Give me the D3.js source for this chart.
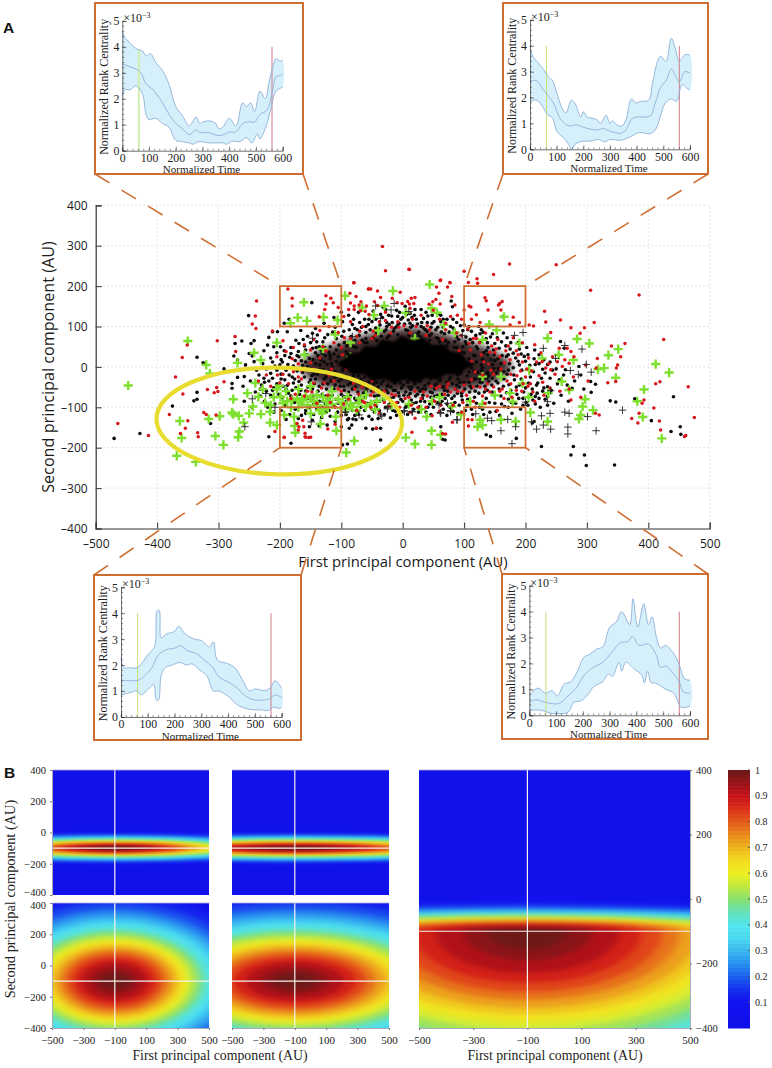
<!DOCTYPE html>
<html><head><meta charset="utf-8">
<script src="https://cdn.jsdelivr.net/npm/d3@7"></script>
<style>html,body{margin:0;padding:0;background:#fff}svg{display:block}</style></head>
<body><svg id="c" width="772" height="1068" xmlns="http://www.w3.org/2000/svg"></svg>
<script>
// ---------- scatter (AU) ----------
const blackDots=[[-470,-177],[-428,-165],[-375,-97],[-335,24],[-325,10],[-340,-84],[-335,-80],[-335,-63],[-291,-5],[-278,-41],[-278,-53],[-269,-26],[-258,-24],[-251,127],[-273,58],[-262,64],[-247,58],[-242,65],[-250,33],[-275,27],[-256,5],[-269,17],[-242,13],[-245,27],[-226,40],[-220,54],[-218,73],[-212,87],[-204,87],[-210,50],[-199,50],[-193,40],[-182,33],[-193,108],[-185,118],[-148,159],[-188,87],[-166,90],[-174,66],[-169,58],[-162,68],[-147,83],[-139,79],[-158,42],[-147,46],[-136,50],[-169,25],[-152,21],[-133,17],[-234,-20],[-226,-28],[-215,-16],[-212,-28],[-313,-140],[-267,-160],[-182,-189],[-218,-173],[-98,-193],[-90,-191],[-36,-181],[-79,-183],[-60,-152],[-49,-154],[-43,-152],[-36,-152],[-100,-148],[-87,-152],[-83,-144],[-90,-131],[-76,-131],[-74,-111],[-147,-132],[-158,-115],
[345,-243],[299,-244],[296,-218],[274,-218],[278,-197],[226,-197],[185,-177],[136,-168],[143,-172],[441,-74],[452,-148],[437,-160],[453,-167],[405,-133],[378,-79],[338,-84],[347,-87],[307,-63],[306,-36],[314,-43],[290,-20],[211,-139],[214,-135],[216,-73],[211,-55],[219,-65],[236,-49],[236,-73],[257,63],[263,46],[287,1],[265,-7],[276,-53],[163,124],[79,163],[81,149],[62,-148],[65,-179],[69,-181],[-136,-146],[-123,-144],[-81,-129],
[-230,-45],[-222,-60],[-205,-42],[-198,-30],[-190,-55],[-185,-20],[-178,-40],[-172,-10],[-168,-68],[-160,-25],[-155,-50],[-150,-5],[-148,-78],[-142,-30],[-138,-60],[-135,5],[-130,-85],[-126,-15],[-122,-42],[-118,28],[-115,-70],[-110,-25],[-108,42],[-105,-90],[-102,-48],[-100,12],[-98,-8],[-95,60],[-94,-75],[-90,30],[-88,-30],[-86,-98],[-84,75],[-82,-55],[-80,50],[-78,-12],[-76,-82],[-74,92],[-72,20],[-70,-40],[-68,-100],[-66,66],[-64,-65],[-62,-25],[-60,85],[-58,-90],[-56,105],[-54,-48],[-52,40],[-50,-105],[-48,72],[-46,-72],[-44,118],[-42,-38],[-40,95],[-38,-85],[-36,130],[-34,-60],[-30,88],[-28,-100],[-26,110],[-24,-45],[-22,78],[-20,-78],[-18,126],[-16,-108],[-14,95],[-12,-58],[-10,140],[-8,-88],[-6,108],[-4,-40],[-2,-112],[0,122],[2,-70],[4,150],[6,-96],[8,90],[10,-50],[12,132],[14,-82],[16,102],[18,-105],[20,-42],[22,118],[24,-68],[26,86],[28,-98],[30,142],[32,-55],[34,96],[36,-86],[38,-112],[40,110],[42,-40],[44,78],[46,-75],[48,128],[50,-100],[52,-55],[54,92],[56,-88],[58,70],[60,-35],[62,112],[64,-68],[66,-105],[68,82],[70,-50],[72,-92],[74,60],[76,-30],[78,100],[80,-78],[82,-110],[84,48],[86,-55],[88,74],[90,-20],[92,-95],[94,38],[96,-65],[98,90],[100,-38],[102,-108],[104,56],[106,-80],[108,-12],[110,68],[112,-52],[114,-118],[116,28],[118,-30],[120,-90],[122,45],[124,-65],[126,82],[128,-8],[130,-105],[132,35],[134,-48],[136,-78],[138,60],[140,-22],[142,-112],[144,18],[146,-62],[148,42],[150,-90],[152,-35],[154,72],[156,-5],[158,-120],[160,-72],[162,28],[164,-48],[166,-98],[168,52],[170,-18],[172,-80],[174,8],[176,-58],[178,-115],[180,34],[182,-32],[184,-90],[186,-68],[188,14],[190,-45],[192,-105],[194,-8],[196,-78],[198,26],[200,-52],[204,-95],[208,-25],[212,-82],[216,6],[220,-40],[224,-100],[228,-60],[232,-15],[240,-28],[246,-90],[252,-42],[258,-70],[262,-20],[270,-85],[280,-35],[295,-55],
[-240,-62],[-225,-85],[-215,-70],[-208,-92],[-196,-75],[-192,-95],[-182,-72],[-176,-88],[-165,-92],[-158,-80],[-152,-100],[-145,-92],[-140,-105],[-132,-100],[-124,-92],[-120,-108],[-112,-98],[-106,-112],[-96,-102],[-92,-118],[-82,-108],[-72,-118],[-62,-108],[-55,-122],[-46,-112],[-40,-128],[-30,-118],[-20,-126],[-10,-120],[-165,-120],[-175,-105],[-190,-130],[-132,-125],[-110,-135],[-152,-148],
[-110,98],[-122,80],[-130,62],[-142,95],[-155,76],[-128,108],[-112,122],[-98,112],[-88,128],[-72,135],[-62,118],[-118,50],[-108,70],[-96,88],[-82,105],[-70,110],[-48,138],[-32,148],[-22,105],[-8,125],[6,130],[20,142],[34,120],[46,98],[58,132],[72,118],[88,110],[100,104],[112,88],[124,100],[136,70],[150,58],[164,84],[176,60],[190,44],[204,30],[215,42],[230,18],[120,12],[130,-2],[138,-15],[146,6],[155,20],[165,-12],[172,30],[180,-2],[190,5],[-115,0],[-125,-25],[-135,-8],[-145,-18],[-118,20],[-128,12],[-142,35],[-155,0],[-165,15],[-178,2],[-190,-8],[-200,5],[-212,12],[-222,-5],
[-75,-5],[-92,-22],[-68,-30],[-48,-30],[-32,-35],[-12,-40],[8,-38],[28,-36],[45,-30],[62,-30],[78,-25],[95,-15],[112,-2],[128,5],[108,20],[118,28],[100,35],[88,48],[72,52],[60,62],[44,66],[28,75],[10,78],[-8,80],[-25,72],[-42,65],[-62,60],[-76,48],[-92,38],[-105,25],[-116,8],[-96,-4],[-60,70],[-35,76],[-15,88],[5,92],[25,82],[40,88],[55,72],[70,65],[85,62],[98,50],[-72,-22],[-55,-38],[-25,-48],[-2,-52],[15,-50],[36,-46],[55,-42],[72,-38],[90,-30],[105,-22],[122,-14],[-85,-40],[-65,-50],[-40,-50],[-15,-58],[5,-62],[28,-60],[48,-64],[68,-58],[88,-45],[108,-38],[125,-28],[140,-36],[-100,-30],[-110,-45],[-88,-62],[-70,-72],[-45,-85],[-20,-90],[0,-85],[22,-88],[44,-92],[64,-85],[84,-72],
[-140,62],[-133,42],[-127,72],[-120,36],[-114,86],[-104,54],[-99,76],[-91,52],[-87,92],[-78,66],[-71,78],[-67,98],[-58,60],[-53,92],[-50,112],[-43,84],[-37,104],[-33,122],[-27,92],[-23,128],[-17,110],[-11,98],[-3,118],[3,106],[9,116],[13,98],[19,128],[24,106],[31,110],[37,92],[41,126],[47,82],[51,112],[57,98],[63,86],[66,118],[76,86],[82,96],[91,68],[94,102],[103,74],[106,92],[114,60],[119,78],[126,62],[131,86],[139,48],[143,74],[149,30],[157,46],[161,62],[169,26],[175,44],[184,22],[193,32],[200,14],[207,4],[214,20],[222,8],[228,-6],[236,6],[244,-8],
[-215,22],[-205,35],[-198,18],[-192,28],[-187,6],[-182,48],[-175,16],[-170,38],[-163,4],[-160,52],[-156,30],[-150,60],[-146,18],[-141,48],[-138,28],[-131,34],[-127,48],[-123,6],[-119,-10],[-112,32],[-108,14],[-205,-8],[-198,-18],[-192,-32],[-188,-46],[-180,-25],[-174,-52],[-169,-36],[-163,-14],[-158,-60],[-152,-38],[-147,-55],[-144,-42],[-139,-18],[-136,-48],[-131,-68],[-128,-30],[-124,-55],[-120,-78],[-117,-35],[-112,-55],[-109,-80],[-104,-35],[-100,-68],[-96,-48],[-92,-85],[-89,-44],[-85,-72],[-81,-92],[-77,-50],[-73,-62],[-69,-82],[-65,-38],[-61,-75],[-58,-52],[-54,-92],[-50,-60],[-47,-42],[-43,-98],[-39,-70],[-35,-42],[-31,-82],[-27,-58],[-23,-95],[-19,-50],[-15,-75],[-11,-100],[-7,-64],[-3,-80],[1,-45],[5,-100],[9,-72],[13,-56],[17,-90],[21,-72],[25,-52],[29,-85],[33,-70],[37,-55],[41,-100],[45,-62],[49,-82],[53,-45],[57,-70],[61,-92],[65,-50],[69,-78],[73,-60],[77,-100],[81,-42],[85,-88],[89,-65],[93,-38],[97,-82],[101,-55],[105,-95],[109,-62],[113,-32],[117,-75],[121,-48],[125,-100],[129,-38],[133,-62],[137,-28],[141,-88],[145,-45],[149,-70],[153,-15],[157,-55],[161,-92],[165,-30],[169,-64],[173,-44],[177,-88],[181,-20],[185,-50],[189,-78],[193,-30],[197,-62],[201,-88],[205,-40],[209,-68],[213,-12],[218,-45],[222,-78],[226,-28],[230,-52],[236,-95],[242,-58],[250,-5],[255,-32],[268,-45],
[-95,-58],[-80,-22],[-58,-15],[-44,-14],[-30,-20],[-14,-22],[0,-24],[14,-25],[30,-22],[44,-18],[58,-14],[74,-10],[90,-4],[104,6],[116,-10],[130,18],[138,30],[146,-28],[126,-38],[110,-48],[92,-50],[-126,28],[-110,-12],[-130,-42],[-96,-74],[-78,-78],[-60,-60],[-42,-72],[-24,-64],[-6,-72],[12,-66],[32,-78],[52,-72],[74,-70],[96,-72],[118,-60],[138,-58],[155,-40],[172,-8],[160,8],[148,-4],[-78,95],[-60,100],[-44,96],[-26,100],[-8,104],[12,108],[30,100],[48,108],[66,98],[84,86],[102,62],[120,50],[136,40],[150,16],[-145,-70],[-125,-72],[-150,-32],[-165,-45],[-180,-58],[-195,-48],[-210,-52],[-225,-38],
[-260,-48],[-248,-35],[-238,-8],[-232,-55],[-228,8],[-218,-35],[-212,-58],[-208,2],[-202,-68],[-196,12],[-186,-65],[-184,24],[-176,-30],[-172,28],[-166,-58],[-158,12],[-154,-78],[-148,-22],[-142,8],[-136,-85],[-130,-6],[-126,-92],[-258,-85],[-245,-100],[-232,-72],[-220,-100],[-210,-112],[-198,-108],[-184,-118],[-170,-128],[-158,-108],[-145,-118],[-125,-112],[-118,-122],[-100,-120],[-88,-128],[-78,-120],[-66,-128],[-50,-130],[-38,-108],[-12,-110],[8,-118],[26,-112],[46,-118],[72,-120],[90,-115],[112,-105],[132,-118],[152,-110],[172,-100],[196,-95],[216,-92],[232,-80],[-100,135],[-80,118],[-55,118],[-28,142],[-5,135],[15,122],[38,135],[62,128],[82,118],[108,100],[128,92],[146,82],[170,72],[188,60],[202,48],[222,30],[240,12]];
const redDots=[[-464,-140],[-414,-170],[-380,-118],[-370,-25],[-359,23],[-358,-67],[-351,54],[-350,-133],[-354,-152],[-362,-165],[-334,-163],[-333,-173],[-324,-113],[-320,-118],[-304,-119],[-318,-56],[-307,-64],[-301,-61],[-303,-51],[-302,65],[-238,163],[-240,126],[-245,106],[-239,95],[-273,75],[-272,38],[-291,-37],[-193,-174],[-208,-160],[-180,170],[-180,151],[-125,176],[-117,170],[-113,159],[-125,156],[-127,142],[-105,147],[-136,124],[-79,208],[-55,193],[-212,89],[-159,-164],[-153,-175],[-159,-173],[-169,-148],[-163,-132],
[-33,298],[-28,238],[11,241],[-80,208],[-56,193],[-52,193],[-41,188],[61,214],[77,208],[73,198],[55,198],[59,182],[-4,185],[20,172],[14,170],[-36,172],[-76,174],[-86,182],[-187,193],[-85,158],[-68,161],[-71,153],[-79,151],[-88,142],[-79,142],[-69,139],[-59,151],[-61,138],[-46,161],[-41,152],[-17,170],[-9,159],[-1,157],[8,162],[11,156],[18,157],[43,155],[49,161],[54,167],[61,156],[80,174],[85,153],[89,128],
[10,242],[100,237],[174,255],[148,229],[250,253],[306,190],[385,178],[121,218],[122,207],[107,209],[77,209],[62,215],[134,171],[136,164],[158,157],[162,162],[156,153],[108,151],[111,148],[100,141],[139,141],[160,141],[120,129],[112,118],[180,123],[190,110],[175,104],[231,138],[233,111],[257,116],[312,110],[206,104],[213,101],[274,97],[296,97],[241,85],[289,83],[425,68],[362,58],[340,52],[350,5],[348,-3],[355,25],[334,-39],[347,-36],[465,-49],[419,-37],[412,-42],[393,-82],[390,-90],[409,-102],[475,-125],[373,-128],[385,-115],[383,-139],[418,-134],[420,-156],[459,-172],[461,-170],[320,-119],[314,-115],[317,21],[315,-3],[298,5],[268,46],[274,38],[279,25],[271,9],[260,1],[252,13],[244,25],[255,46],[227,13],[233,-3],[241,-7],[271,-55],[274,-82],
[-193,-175],[-158,-174],[-150,-174],[-161,-148],[-170,-156],[-172,-140],[-122,-154],[-110,-142],[-43,-152],[15,-162],[65,-165],[70,-166],[20,-127],[48,-121],[81,-137],[106,-130],[113,-131],[107,-146],
[-235,-35],[-215,-48],[-204,-20],[-186,-42],[-175,-68],[-165,-30],[-155,-60],[-145,-5],[-140,-90],[-128,-40],[-122,-70],[-116,-5],[-110,-100],[-100,-60],[-92,-5],[-88,-80],[-80,-40],[-75,-108],[-66,-50],[-62,-88],[-52,-70],[-45,-95],[-38,-115],[-28,-72],[-22,-98],[-12,-70],[-5,-100],[4,-78],[12,-112],[20,-60],[30,-78],[38,-100],[46,-48],[52,-85],[60,-110],[68,-68],[74,-42],[82,-95],[90,-60],[96,-112],[104,-70],[112,-32],[118,-100],[126,-50],[134,-90],[142,-62],[148,-18],[154,-108],[162,-55],[170,-35],[178,-75],[186,-22],[194,-60],[202,-5],[208,-42],[215,-85],[222,-22],[230,-70],[238,8],[248,-18],[256,-60],[264,18],[278,-25],[290,-75],[302,-35],
[-135,90],[-120,100],[-105,85],[-96,125],[-85,112],[-75,75],[-65,100],[-55,130],[-48,88],[-38,112],[-28,135],[-18,98],[-8,112],[2,102],[12,145],[22,100],[30,128],[40,102],[50,140],[60,118],[70,92],[78,125],[88,84],[96,118],[106,94],[115,70],[126,110],[135,84],[145,52],[155,68],[168,40],[180,72],[195,60],[205,22],[215,55],[225,35],[128,30],[140,8],[150,35],[160,-5],[175,18],[185,40],[195,12],[210,-10],[-205,25],[-195,65],[-178,48],[-160,55],[-145,68],[-125,40],[-112,60],[-100,48],[-85,70],[-135,22],[-150,10],[-165,-8],[-180,20],[-195,-18],
[-60,45],[-90,15],[-75,30],[-45,78],[-20,84],[12,84],[38,78],[65,68],[92,40],[112,14],[130,-20],[100,-45],[72,-50],[40,-72],[10,-75],[-18,-68],[-48,-62],[-78,-55],[-105,-55],[-120,-20],[55,-52],[85,-55],[115,-50],[135,-55],[-30,-60],[-65,-85],[25,-100],[62,-95],
[125,60],[142,36],[158,25],[172,52],[188,30],[200,-25],[185,-58],[165,-78],[148,-50],[130,-72],[115,-85],[98,-88],[78,-62],[-170,-25],[-182,-78],[-148,-62],[-132,-52],[-118,-88],[-96,-92],[-72,-68],[-52,-100],[-30,-88],[-10,-88],[14,-95],[34,-62],[-95,72],[-70,88],[-50,70],[-28,115],[-6,98],[16,118],[44,92],[70,108],[95,78],[110,42],[-130,50],[-150,42],[-170,8],[-190,38],
[132,12],[144,-8],[152,44],[166,10],[176,-18],[192,-10],[204,-48],[218,12],[228,-38],[240,-52],[118,-12],[138,-42],[158,-60],[176,-42],[196,-42],[212,-62],[120,70],[108,58],[98,-60],[60,-48],[-70,60],[-98,30],[-112,-35],[-145,-40],[-160,-72],[-178,-12],[-200,-40],[-222,-20],[-50,-35],[-20,-30]];
const greenPlus=[[-447,-46],[-350,64],[-320,5],[-314,-16],[-363,-134],[-360,-176],[-368,-220],[-337,-235],[-316,-129],[-298,-122],[-305,-171],[-292,-193],[-268,-174],[-266,-160],[-259,-138],[-276,-80],[-269,10],[-242,35],[-231,17],[-278,-113],[-276,-117],[-267,-121],[-250,-115],[-244,-98],[-253,-65],[-235,-74],[-224,-89],[-231,-117],[-216,-111],[-216,-138],[-205,-144],[-201,-47],[-199,-74],[-193,-119],[-177,-123],[-176,-146],[-175,-163],[-161,160],[-171,122],[-156,114],[-129,123],[-106,116],[-94,176],[-183,108],[-134,-141],[-108,-158],[-131,-115],[-109,-123],[-79,-183],[-92,-212],[-180,-82],[-163,-82],[-150,-78],[-130,-75],[-82,-99],[-16,188],[-66,147],[-30,151],[-47,128],[5,134],
[44,204],[47,145],[165,124],[141,105],[153,91],[236,71],[284,69],[304,58],[351,44],[335,29],[412,7],[434,-14],[393,-56],[382,-85],[391,-124],[422,-177],[347,-27],[328,-3],[318,-6],[254,30],[278,17],[259,-36],[297,-80],[293,-98],[310,-107],[290,-119],[287,-129],[236,-135],[208,-113],[184,-135],[160,-131],[126,-131],[122,-148],[130,-144],[47,-158],[62,-168],[47,-193],[20,-191],[5,-175],[39,-123],[179,-86],[195,-41],[206,-8],[160,-24],[130,-24],[190,58],[227,21],[271,-57],[237,-65],[67,104],[56,134],[130,67],
[-190,-60],[-170,-100],[-155,-95],[-140,-70],[-122,-100],[-105,-80],[-90,-75],[-72,-90],[-60,-70],[-42,-85],[-150,-115],[-128,-105],[-240,-40],[-215,-95],[-100,-102],[-85,60],[-110,80],[20,70],[-40,90],[85,85],[110,-85],[60,-75],[95,-118],[30,-105],
[-205,-55],[-195,-90],[-188,-85],[-182,-100],[-172,-78],[-166,-88],[-158,-72],[-145,-85],[-138,-95],[-125,-85],[-115,-92],[-98,-88],[-85,-92],[-70,-78],[-52,-92],[-30,-78],[-18,-95],[-170,-55],[-150,-48],[-115,-60],[-210,-75],[-228,-55],[-120,-75],[-135,-108],[-75,-108],[-60,-98],[-92,-105],[-45,-105],[-205,60],[-160,30],[-130,45],[-85,25],[150,-70],[175,-65],[205,-75],[130,-92],[80,-98],[48,-85],[10,-92]];
const blackPlus=[[196,85],[182,78],[264,53],[292,44],[249,21],[229,46],[273,-9],[286,-19],[299,6],[307,-13],[241,-59],[236,-86],[240,-115],[264,-112],[271,-115],[226,-121],[301,-123],[358,-107],[315,-158],[269,-149],[269,-166],[241,-154],[229,-144],[218,-154],[210,-136],[184,-148],[160,-158],[178,-190],[171,-130],[145,-133],[138,-127],[119,-116],[89,-131],[78,-108],[61,-113],[15,-111],[200,-87],[97,78],[141,17],[10,137],
[-245,-79],[-257,-148],[-208,-100],[-149,-136],[-94,-113],[-71,-119],[-34,-122],[-24,-99],[2,-108],[-44,151],[-14,157],[-147,71],[-82,75],[-36,120],[-19,141],[-223,-66],[-93,-111],[-36,-119],[-25,-104],[3,-111],[16,-111],[59,-94],[73,-90],[62,-115],[78,-111],[88,-131]];
const denseHalo=[[-170,8],[-140,38],[-105,58],[-65,78],[-25,92],[15,98],[55,88],[95,70],[135,48],[168,24],[180,-2],[160,-30],[125,-50],[85,-60],[35,-65],[-20,-65],[-75,-62],[-125,-50],[-155,-28]];
const coreOutline=[[-108,6],[-94,20],[-88,34],[-70,36],[-62,52],[-44,50],[-34,68],[-14,62],[-2,78],[16,66],[34,72],[48,54],[66,56],[78,38],[96,34],[104,16],[118,6],[102,-6],[92,-20],[70,-18],[58,-32],[38,-28],[22,-40],[2,-32],[-14,-42],[-30,-30],[-50,-34],[-62,-18],[-82,-18],[-92,-6]];
const zoomBoxes=[[-200,-100,100,200],[100,200,100,200],[-200,-100,-200,-100],[100,200,-200,-100]];
const highlightEllipse=[-201,-134,200,132];
const mainXTicks=[-500,-400,-300,-200,-100,0,100,200,300,400,500];
const mainYTicks=[-400,-300,-200,-100,0,100,200,300,400];

// ---------- inset traces: [normalized time, rank centrality x 1e-3] ----------
const inset1Upper=[[0,4.6],[10,4.35],[25,4.2],[50,3.95],[60,3.9],[75,3.85],[90,3.65],[105,3.75],[125,3.4],[150,3.1],[175,2.55],[190,2],[200,1.7],[225,1.35],[250,.95],[262,1.1],[275,1.3],[290,1.05],[300,1.1],[325,1.15],[350,1.05],[360,.85],[375,.9],[400,1.25],[425,.95],[450,1.85],[465,1.7],[480,1.85],[495,1.5],[515,2.3],[535,2],[550,2.7],[565,3.3],[575,3.55],[590,3.45],[600,3.5]];
const inset1Mean=[[0,3.35],[25,3.25],[50,3.15],[70,3],[90,2.55],[110,2.4],[130,2.15],[150,1.85],[175,1.4],[200,1.05],[225,.85],[250,.62],[275,.8],[290,.7],[325,.7],[350,.6],[375,.6],[400,.72],[425,.72],[450,1.05],[475,1.12],[495,1.1],[515,1.4],[540,1.55],[560,2.2],[575,2.85],[590,2.9],[600,2.95]];
const inset1Lower=[[0,2.1],[10,2.35],[30,2.35],[50,2.5],[75,2.2],[90,1.35],[100,1.2],[125,1.25],[150,1.05],[175,.9],[200,.4],[225,.35],[250,.3],[265,.25],[285,.35],[325,.3],[375,.3],[390,.25],[410,.37],[440,.35],[465,.5],[485,.3],[505,.65],[515,.45],[540,1],[555,1.6],[575,2.3],[590,2.4],[600,2.45]];
const inset2Upper=[[0,4],[10,3.6],[30,3.35],[50,3.1],[70,2.8],[85,2.65],[100,2.2],[120,1.6],[135,1.4],[155,1.9],[170,1.75],[190,1.25],[200,1.45],[215,1.25],[250,1.15],[265,1],[285,1.32],[300,1],[310,1.1],[325,.95],[345,.9],[360,1.15],[380,1.95],[395,1.8],[415,1.85],[445,1.9],[460,2.6],[480,3.45],[490,3.6],[510,3.4],[530,4.3],[545,3.9],[560,3.4],[580,3.65],[600,3.65]];
const inset2Mean=[[0,2.65],[25,2.65],[50,2.3],[70,2.05],[90,1.75],[110,1.25],[130,1],[150,.9],[175,.95],[200,.85],[250,.75],[275,.8],[300,.7],[340,.62],[360,.75],[380,1.15],[400,1.25],[450,1.28],[470,1.8],[490,2.4],[510,2.65],[530,3.1],[545,2.85],[560,2.6],[580,3],[600,2.95]];
const inset2Lower=[[0,1.85],[25,1.9],[50,1.6],[65,1.35],[85,1.2],[100,.7],[125,.45],[145,.2],[155,0],[170,.2],[190,.3],[225,.32],[260,.38],[280,.28],[300,.38],[340,.35],[380,.5],[410,.65],[450,.6],[470,.75],[490,1.3],[505,1.75],[530,1.95],[550,1.85],[570,2.5],[590,2.35],[600,2.3]];
const inset3Upper=[[0,2.3],[10,1.9],[30,1.9],[60,1.9],[80,2.1],[100,2.4],[125,2.7],[135,4.1],[143,4.1],[150,3.05],[170,3.2],[200,3.3],[215,3.5],[240,3.2],[275,3],[300,2.95],[330,2.7],[345,2.9],[360,2.2],[400,2.05],[425,1.9],[450,1.5],[480,1],[500,1.08],[540,1.02],[560,1.15],[575,1.4],[600,1.1]];
const inset3Mean=[[0,1.42],[30,1.4],[65,1.42],[90,1.6],[115,1.9],[140,2.4],[170,2.6],[200,2.65],[220,2.75],[250,2.55],[280,2.45],[310,2.2],[340,1.95],[365,1.55],[400,1.35],[430,1.15],[460,.85],[490,.68],[520,.65],[550,.68],[575,.85],[600,.75]];
const inset3Lower=[[0,.85],[30,.93],[60,1],[75,.85],[100,1.05],[122,1.25],[132,.65],[140,.65],[150,1.6],[165,1.9],[190,2],[220,2.1],[245,2],[265,2.05],[295,1.8],[320,1.6],[345,1],[365,1],[400,.8],[430,.5],[460,.35],[490,.28],[520,.28],[550,.25],[570,.38],[590,.33],[600,.38]];
const inset4Upper=[[0,.8],[10,.9],[35,1.05],[60,.85],[85,.95],[105,.75],[130,1.2],[155,1.3],[175,1.6],[205,2.25],[225,2.35],[250,2.55],[275,2.65],[300,3.4],[325,3.6],[345,4],[375,3.5],[387,4.5],[405,3.4],[427,4.3],[445,3.5],[458,3.8],[475,3],[490,2.6],[510,2.7],[530,2.5],[550,2.2],[565,1.8],[580,1.4],[600,1.35]];
const inset4Mean=[[0,.5],[25,.6],[60,.5],[110,.45],[140,.7],[175,1.05],[205,1.55],[240,1.85],[275,2.05],[310,2.45],[340,2.8],[370,2.85],[385,3.05],[410,2.7],[445,2.75],[475,2.3],[490,1.85],[510,1.9],[530,1.7],[560,1.3],[575,.9],[600,.85]];
const inset4Lower=[[0,.2],[40,.2],[60,.15],[80,.08],[145,.12],[165,.5],[190,.55],[215,.75],[240,1.1],[275,1.3],[295,1.6],[310,1.5],[335,2.05],[345,1.7],[360,2.05],[390,1.8],[420,1.55],[430,1.25],[442,1.7],[455,1.25],[470,1.25],[510,1],[540,.85],[560,.4],[570,.3],[600,.35]];
const insetGreenTime=62, insetRedTime=560;

// ---------- heat maps: contour levels and their half-widths in AU ----------
const heatLevels=[.05,.1,.15,.2,.25,.3,.35,.4,.45,.5,.55,.6,.65,.7,.75,.8,.85,.9,.95,.98];
const tlRx=[1534,1346,1221,1121,1045,970,908,845,789,739,682,632,582,532,476,419,357,288,200,125];
const tlRy=[115,101,92,84,78,73,68,63,59,55,51,47,44,40,36,31,27,22,15,9];
const trRx=[2205,1935,1755,1611,1503,1395,1305,1215,1134,1062,981,909,837,765,684,603,513,414,288,180];
const blRx=[1102,967,877,805,751,697,652,607,567,531,490,454,418,382,342,301,256,207,144,90];
const blRy=[632,555,503,462,431,400,374,348,325,304,281,261,240,219,196,173,147,119,83,52];
const brRx=[1666,1462,1326,1217,1135,1054,986,918,857,802,741,687,632,578,517,456,388,313,218,136];
const bigRx=[1813,1591,1443,1325,1236,1147,1073,999,932,873,807,747,688,629,562,496,422,340,237,148];
const bigRyDown=[686,602,546,501,468,434,406,378,353,330,305,283,260,238,213,188,160,129,90,56];
const bigRyUp=[100,88,80,73,68,64,59,55,52,48,45,41,38,35,31,27,23,19,13,8];
const heatCentre=-100;
const heatXTicks=[-500,-300,-100,100,300,500];
const heatYTicks=[-400,-200,0,200,400];
const colorbarTicks=[.1,.2,.3,.4,.5,.6,.7,.8,.9,1];
const colorStopsAt=[0,.1,.15,.2,.25,.3,.35,.4,.45,.5,.55,.6,.65,.7,.75,.8,.85,.9,.95,1];
const colorStops=["#1010ea","#1212ee","#1530ee","#1c60ee","#2890f0","#38b8f0","#48d8f0","#52e6ee","#62e0b8","#88e070","#c0e840","#eef022","#f2da20","#eeb61e","#ea8a1c","#e45a1a","#dc3018","#c81018","#981218","#6a1a18"];

// ---------- layout ----------
const svg=d3.select("#c");
const sansFont="'Open Sans',sans-serif", serifFont="'Liberation Serif',serif";
const orange="#cf6e33";
const x=d3.scaleLinear().domain([-500,500]).range([95.7,709.7]);
const y=d3.scaleLinear().domain([-400,400]).range([528.5,205.3]);

const defs=svg.append("defs");
defs.append("filter").attr("id","haloBlur").attr("x","-20%").attr("y","-30%").attr("width","140%").attr("height","160%").append("feGaussianBlur").attr("stdDeviation",4);
defs.append("filter").attr("id","coreBlur").attr("x","-10%").attr("y","-15%").attr("width","120%").attr("height","130%").append("feGaussianBlur").attr("stdDeviation",.8);

// main grid
const gA=svg.append("g");
gA.append("g").selectAll("line").data(mainXTicks.slice(1)).join("line")
 .attr("x1",d=>x(d)).attr("x2",d=>x(d)).attr("y1",y(-400)).attr("y2",y(400))
 .attr("stroke","#c8c8c8").attr("stroke-dasharray","1 3");
gA.append("g").selectAll("line").data(mainYTicks.slice(1)).join("line")
 .attr("y1",d=>y(d)).attr("y2",d=>y(d)).attr("x1",x(-500)).attr("x2",x(500))
 .attr("stroke","#c8c8c8").attr("stroke-dasharray","1 3");

// scatter
const outline=d3.line().x(d=>x(d[0])).y(d=>y(d[1])).curve(d3.curveLinearClosed);
gA.append("path").datum(denseHalo).attr("d",outline).attr("fill","#160504").attr("opacity",.85).attr("filter","url(#haloBlur)");
gA.append("g").selectAll("circle").data(blackDots).join("circle")
 .attr("cx",d=>x(d[0])).attr("cy",d=>y(d[1])).attr("r",1.8).attr("fill","#0a0a0a");
gA.append("g").selectAll("path").data(greenPlus).join("path")
 .attr("transform",d=>`translate(${x(d[0])},${y(d[1])})`).attr("d","M-4.6,0H4.6M0,-4.6V4.6")
 .attr("stroke","#7ee02e").attr("stroke-width",2.4).attr("fill","none");
gA.append("g").selectAll("circle").data(redDots).join("circle")
 .attr("cx",d=>x(d[0])).attr("cy",d=>y(d[1])).attr("r",1.75).attr("fill","#d8151b");
gA.append("g").selectAll("path").data(blackPlus).join("path")
 .attr("transform",d=>`translate(${x(d[0])},${y(d[1])})`).attr("d","M-3.8,0H3.8M0,-3.8V3.8")
 .attr("stroke","#222").attr("stroke-width",.9).attr("fill","none");
gA.append("path").datum(coreOutline).attr("d",outline).attr("fill","#050505").attr("filter","url(#coreBlur)");

// main axes
const axisB=d3.axisBottom(x).tickValues(mainXTicks).tickSize(-6).tickFormat(d=>d<0?"\u2013"+(-d):d);
const axB=gA.append("g").attr("transform",`translate(0,${y(-400)})`).call(axisB);
const axisL=d3.axisLeft(y).tickValues(mainYTicks).tickSize(-6).tickFormat(d=>d<0?"\u2013"+(-d):d);
const axL=gA.append("g").attr("transform",`translate(${x(-500)},0)`).call(axisL);
[axB,axL].forEach(a=>{a.selectAll("path").attr("stroke","#333").attr("stroke-width",1.2);
 a.selectAll("line").attr("stroke","#444").attr("stroke-width",1.1);
 a.selectAll("text").attr("font-family",sansFont).attr("font-size",12).attr("fill","#1a1a1a");});
axB.selectAll("text").attr("dy",0).attr("y",19);
axL.selectAll("text").attr("x",-8).attr("dy","0.35em");
gA.append("text").attr("x",403).attr("y",567).attr("text-anchor","middle").attr("font-family",sansFont).attr("font-size",14.8).attr("fill","#1a1a1a").text("First principal component (AU)");
gA.append("text").attr("transform","translate(54,367) rotate(-90)").attr("text-anchor","middle").attr("font-family",sansFont).attr("font-size",16.2).attr("fill","#1a1a1a").text("Second principal component (AU)");

// highlight
gA.append("ellipse").attr("transform",`rotate(1.2 ${x(highlightEllipse[0])} ${y(highlightEllipse[1])})`)
 .attr("cx",x(highlightEllipse[0])).attr("cy",y(highlightEllipse[1]))
 .attr("rx",x(highlightEllipse[2])-x(0)).attr("ry",y(0)-y(highlightEllipse[3]))
 .attr("fill","none").attr("stroke","#e8dc2e").attr("stroke-width",4.2);

// zoom boxes and leaders
gA.append("g").selectAll("rect").data(zoomBoxes).join("rect")
 .attr("x",d=>x(d[0])).attr("width",d=>x(d[1])-x(d[0])).attr("y",d=>y(d[3])).attr("height",d=>y(d[2])-y(d[3]))
 .attr("fill","none").attr("stroke",orange).attr("stroke-width",1.8);

const insets=[
 {up:inset1Upper,mid:inset1Mean,lo:inset1Lower,frame:[95,3,303,174],px:[122.3,282.7],py:[150.7,21],box:0,edge:"bottom",greenW:2,greenC:"#cfeeb0"},
 {up:inset2Upper,mid:inset2Mean,lo:inset2Lower,frame:[503,3,708,174],px:[530,690],py:[149.3,20],box:1,edge:"bottom",greenW:1,greenC:"#c8e07a"},
 {up:inset3Upper,mid:inset3Mean,lo:inset3Lower,frame:[94,575,301,740],px:[121,281.7],py:[717,587.3],box:2,edge:"top",greenW:1,greenC:"#c8e07a"},
 {up:inset4Upper,mid:inset4Mean,lo:inset4Lower,frame:[502,574,708,739],px:[529.3,690],py:[715.3,585.7],box:3,edge:"top",greenW:1,greenC:"#c8e07a"}];

insets.forEach(s=>{
 const [fl,ft,fr,fb]=s.frame, b=zoomBoxes[s.box];
 const fy=s.edge==="bottom"?fb:ft, by=s.edge==="bottom"?y(b[3]):y(b[2]);
 svg.append("g").selectAll("line").data([[fl,x(b[0])],[fr,x(b[1])]]).join("line")
  .attr("x1",d=>d[0]).attr("y1",fy).attr("x2",d=>d[1]).attr("y2",by)
  .attr("stroke",orange).attr("stroke-width",1.6).attr("stroke-dasharray","17 14");
});

insets.forEach(s=>{
 const [fl,ft,fr,fb]=s.frame;
 const g=svg.append("g");
 g.append("rect").attr("x",fl).attr("y",ft).attr("width",fr-fl).attr("height",fb-ft).attr("fill","#fff").attr("stroke",orange).attr("stroke-width",2);
 const ix=d3.scaleLinear().domain([0,600]).range(s.px), iy=d3.scaleLinear().domain([0,5]).range(s.py);
 const traceLine=d3.line().x(d=>ix(d[0])).y(d=>iy(d[1])).curve(d3.curveCatmullRom);
 g.append("path").datum(s.up.concat(s.lo.slice().reverse())).attr("d",traceLine).attr("fill","#d6f0fb");
 g.append("line").attr("x1",ix(insetGreenTime)).attr("x2",ix(insetGreenTime)).attr("y1",iy(0)).attr("y2",iy(s===insets[0]?3.9:4)).attr("stroke",s.greenC).attr("stroke-width",s.greenW);
 g.append("line").attr("x1",ix(insetRedTime)).attr("x2",ix(insetRedTime)).attr("y1",iy(0)).attr("y2",iy(4)).attr("stroke","#cf7d86").attr("stroke-width",1);
 [s.up,s.mid,s.lo].forEach(a=>g.append("path").datum(a).attr("d",traceLine).attr("fill","none").attr("stroke","#8db0d8").attr("stroke-width",.9));
 // axes
 const ax=g.append("g").attr("transform",`translate(0,${s.py[0]})`).call(d3.axisBottom(ix).tickValues(d3.range(0,601,100)).tickSize(-4).tickFormat(d3.format("d")));
 ax.append("g").selectAll("line").data(d3.range(0,601,20)).join("line").attr("x1",ix).attr("x2",ix).attr("y1",0).attr("y2",-2).attr("stroke","#333").attr("stroke-width",.5);
 const ay=g.append("g").attr("transform",`translate(${s.px[0]},0)`).call(d3.axisLeft(iy).tickValues([0,1,2,3,4,5]).tickSize(-4).tickFormat(d3.format("d")));
 ay.append("g").selectAll("line").data(d3.range(0,5.01,.2)).join("line").attr("y1",iy).attr("y2",iy).attr("x1",0).attr("x2",2).attr("stroke","#333").attr("stroke-width",.5);
 [ax,ay].forEach(a=>{a.select(".domain").attr("stroke","#333").attr("stroke-width",.7);
  a.selectAll(".tick line").attr("stroke","#333").attr("stroke-width",.6);
  a.selectAll("text").attr("font-family",serifFont).attr("font-size",11.8).attr("fill","#222");});
 ax.selectAll(".tick text").attr("y",3).attr("dy","0.71em");
 ay.selectAll(".tick text").attr("x",-3).attr("dy","0.33em");
 const t=g.append("text").attr("x",s.px[0]+1).attr("y",s.py[1]+1).attr("font-family",serifFont).attr("font-size",12).attr("fill","#222");
 t.append("tspan").text("\u00d710");
 t.append("tspan").attr("dy",-4).attr("font-size",8).text("\u22123");
 g.append("text").attr("transform",`translate(${s.px[0]-14},${(s.py[0]+s.py[1])/2+1}) rotate(-90)`).attr("text-anchor","middle").attr("font-family",serifFont).attr("font-size",12).attr("fill","#222").text("Normalized Rank Centrality");
 g.append("text").attr("x",(s.px[0]+s.px[1])/2-1).attr("y",s.py[0]+22.5).attr("text-anchor","middle").attr("font-family",serifFont).attr("font-size",11).attr("fill","#222").text("Normalized Time");
});

// panel letters
svg.append("text").attr("x",3).attr("y",33).attr("font-family","'Liberation Sans',sans-serif").attr("font-weight","bold").attr("font-size",15.5).attr("fill","#111").text("A");
svg.append("text").attr("x",4).attr("y",778).attr("font-family","'Liberation Sans',sans-serif").attr("font-weight","bold").attr("font-size",15.5).attr("fill","#111").text("B");

// ---------- heat maps ----------
const heatColor=d3.scaleLinear().domain(colorStopsAt).range(colorStops).interpolate(d3.interpolateRgb);
function blurFilter(id,dev){defs.append("filter").attr("id",id).attr("x","-5%").attr("y","-5%").attr("width","110%").attr("height","110%")
 .attr("color-interpolation-filters","sRGB").append("feGaussianBlur").attr("stdDeviation",dev);}
blurFilter("softThin","3 .8");blurFilter("soft","2.4 2.2");blurFilter("softBig","4 2");

const panels=[
 {id:"h1",r:[52,209,770,895],rx:tlRx,up:tlRy,dn:tlRy,f:"softThin",yl:"left",xl:false,nudge:-1.5},
 {id:"h2",r:[232,389,770,895],rx:trRx,up:tlRy,dn:tlRy,f:"softThin",yl:null,xl:false},
 {id:"h3",r:[52,209,903,1028],rx:blRx,up:blRy,dn:blRy,f:"soft",yl:"left",xl:true,nudge:1.5},
 {id:"h4",r:[232,389,903,1028],rx:brRx,up:blRy,dn:blRy,f:"soft",yl:null,xl:true},
 {id:"h5",r:[419,690,770,1028],rx:bigRx,up:bigRyUp,dn:bigRyDown,f:"softBig",yl:"right",xl:true,nudge:0}];

panels.forEach(p=>{
 const [l,r,t,b]=p.r;
 const hx=d3.scaleLinear().domain([-500,500]).range([l,r]), hy=d3.scaleLinear().domain([-400,400]).range([b,t]);
 defs.append("clipPath").attr("id",p.id).append("rect").attr("x",l).attr("y",t).attr("width",r-l).attr("height",b-t);
 const g=svg.append("g");
 const clip=g.append("g").attr("clip-path",`url(#${p.id})`);
 const inner=clip.append("g").attr("filter",`url(#${p.f})`);
 inner.append("rect").attr("x",l-40).attr("y",t-40).attr("width",r-l+80).attr("height",b-t+80).attr("fill",heatColor(.03));
 const cx=hx(heatCentre), cy=hy(heatCentre);
 const sx=(r-l)/1000, sy=(b-t)/800;
 inner.selectAll("path").data(heatLevels).join("path")
  .attr("d",(v,i)=>{const a=p.rx[i]*sx,u=p.up[i]*sy,w=p.dn[i]*sy;
    return `M${cx-a},${cy}A${a},${u} 0 0 1 ${cx+a},${cy}A${a},${w} 0 0 1 ${cx-a},${cy}Z`;})
  .attr("fill",(v,i)=>heatColor(i+1<heatLevels.length?(v+heatLevels[i+1])/2:.995));
 clip.append("line").attr("x1",cx).attr("x2",cx).attr("y1",t).attr("y2",b).attr("stroke","#f4f4ee").attr("stroke-width",1.2);
 clip.append("line").attr("y1",cy).attr("y2",cy).attr("x1",l).attr("x2",r).attr("stroke","#f4f4ee").attr("stroke-width",1.2);
 g.append("line").attr("x1",l).attr("x2",r).attr("y1",t).attr("y2",t).attr("stroke","#aab0dd").attr("stroke-width",.8);
 if(p.xl){
  const a=g.append("g").attr("transform",`translate(0,${b})`).call(d3.axisBottom(hx).tickValues(heatXTicks).tickSize(2).tickPadding(6).tickFormat(d=>d<0?"\u2212"+(-d):d));
  a.select(".domain").attr("stroke","#aab");a.selectAll("line").attr("stroke","#777");
  a.selectAll("text").attr("font-family",serifFont).attr("font-size",11).attr("fill","#222");
 }
 if(p.yl){
  const gen=p.yl==="left"?d3.axisLeft(hy):d3.axisRight(hy);
  const a=g.append("g").attr("transform",`translate(${p.yl==="left"?l:r},0)`).call(gen.tickValues(heatYTicks).tickSize(2).tickPadding(4).tickFormat(d=>d<0?"\u2212"+(-d):d));
  a.select(".domain").attr("stroke","#aab");a.selectAll("line").attr("stroke","#777");
  a.selectAll("text").attr("font-family",serifFont).attr("font-size",10.5).attr("fill","#222");
  // keep the two labels that meet between the stacked panels apart
  a.selectAll(".tick text").filter(d=>(p.nudge<0&&d===-400)||(p.nudge>0&&d===400)).attr("y",p.nudge*1.6);
 }
});
[220,555].forEach(cx=>svg.append("text").attr("x",cx).attr("y",1060).attr("text-anchor","middle").attr("font-family",serifFont).attr("font-size",13.8).attr("fill","#222").text("First principal component (AU)"));
svg.append("text").attr("transform","translate(15,899) rotate(-90)").attr("text-anchor","middle").attr("font-family",serifFont).attr("font-size",14.4).attr("fill","#222").text("Second principal component (AU)");

// colorbar
const cbY=d3.scaleLinear().domain([0,1]).range([1028,770]);
const cb=svg.append("g");
cb.selectAll("rect").data(d3.range(0,64)).join("rect")
 .attr("x",728).attr("width",22).attr("y",i=>cbY((i+1)/64)).attr("height",i=>cbY(i/64)-cbY((i+1)/64)+.5)
 .attr("fill",i=>heatColor((i+.5)/64));
cb.selectAll("text").data(colorbarTicks).join("text").attr("x",755).attr("y",d=>cbY(d)+3.5)
 .attr("font-family",serifFont).attr("font-size",10).attr("fill","#222").text(d=>d);
cb.selectAll("line").data(colorbarTicks).join("line").attr("x1",748).attr("x2",750).attr("y1",d=>cbY(d)).attr("y2",d=>cbY(d)).attr("stroke","#555");
</script></body></html>
